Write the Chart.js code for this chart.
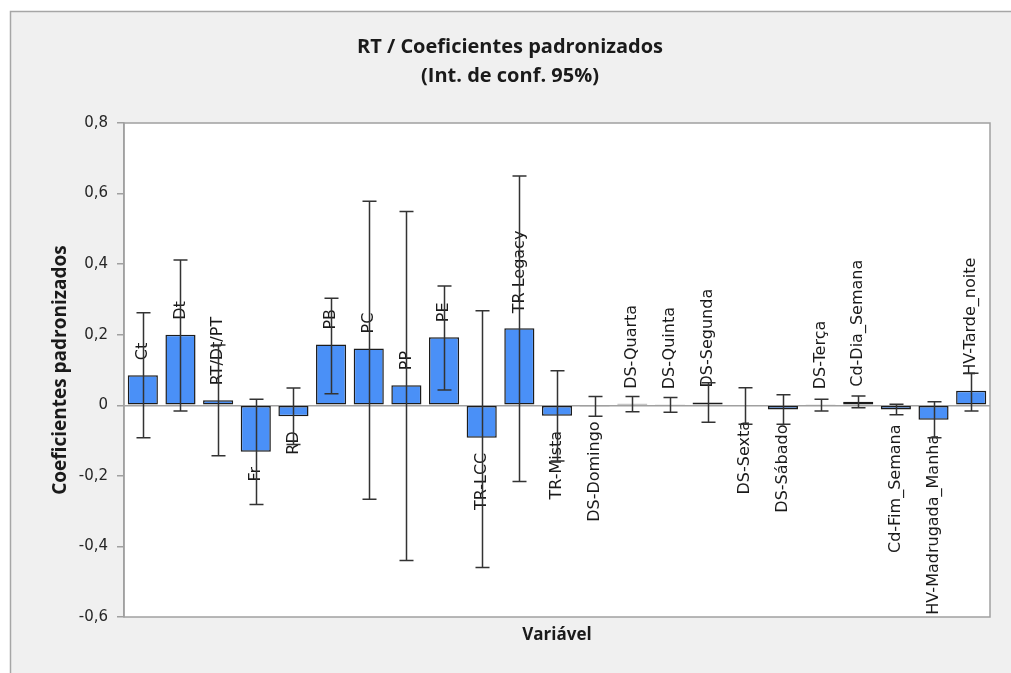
<!DOCTYPE html>
<html>
<head>
<meta charset="utf-8">
<script src="https://cdn.jsdelivr.net/npm/chart.js@4/dist/chart.umd.min.js"></script>
<style>
  html, body { margin: 0; padding: 0; background: #ffffff; }
  #wrap { width: 1011px; height: 673px; position: relative; }
</style>
</head>
<body>
<div id="wrap"><canvas id="chart" width="1011" height="673"></canvas></div>
<script>
// Variables of the model
const categories = ['Ct', 'Dt', 'RT/Dt/PT', 'Fr', 'RD', 'PB', 'PC', 'PP', 'PE', 'TR-LCC', 'TR-Legacy', 'TR-Mista',
  'DS-Domingo', 'DS-Quarta', 'DS-Quinta', 'DS-Segunda', 'DS-Sexta', 'DS-Sábado', 'DS-Terça',
  'Cd-Dia_Semana', 'Cd-Fim_Semana', 'HV-Madrugada_Manha', 'HV-Tarde_noite'];

// Standardized coefficients
const coefficients = [0.085, 0.200, 0.014, -0.132, -0.031, 0.172, 0.161, 0.057, 0.193, -0.092, 0.218, -0.030,
  -0.003, 0.004, 0.003, 0.008, -0.002, -0.012, 0.003, 0.010, -0.012, -0.041, 0.041];

// 95% confidence interval bounds
const lowerBounds = [-0.092, -0.016, -0.143, -0.281, -0.111, 0.033, -0.266, -0.440, 0.043, -0.460, -0.216, -0.158,
  -0.031, -0.018, -0.020, -0.048, -0.054, -0.054, -0.016, -0.007, -0.027, -0.092, -0.016];
const upperBounds = [0.262, 0.412, 0.171, 0.017, 0.049, 0.303, 0.578, 0.549, 0.338, 0.268, 0.650, 0.098,
  0.025, 0.025, 0.022, 0.064, 0.050, 0.030, 0.017, 0.026, 0.003, 0.010, 0.091];

// Y axis tick values
const yTicks = [-0.6, -0.4, -0.2, 0, 0.2, 0.4, 0.6, 0.8];

const titleLines = ['RT / Coeficientes padronizados', '(Int. de conf. 95%)'];
const yTitle = 'Coeficientes padronizados';
const xTitle = 'Variável';

function formatTick(v) {
  if (Math.abs(v) < 1e-9) return '0';
  return v.toFixed(1).replace('.', ',');
}

// Grey frame behind the whole chart and border around the plot area
const framePlugin = {
  id: 'frame',
  beforeDraw(chart) {
    const ctx = chart.ctx;
    ctx.save();
    ctx.fillStyle = '#ffffff';
    ctx.fillRect(0, 0, chart.width, chart.height);
    ctx.fillStyle = '#f0f0f0';
    ctx.fillRect(10, 11, chart.width, chart.height);
    ctx.strokeStyle = '#a6a6a6';
    ctx.lineWidth = 1.5;
    ctx.strokeRect(10.5, 11.5, chart.width + 10, chart.height + 10);
    const a = chart.chartArea;
    ctx.fillStyle = '#ffffff';
    ctx.fillRect(a.left, a.top, a.right - a.left, a.bottom - a.top);
    ctx.restore();
  },
  afterDraw(chart) {
    const ctx = chart.ctx;
    const a = chart.chartArea;
    ctx.save();
    ctx.strokeStyle = '#a0a0a0';
    ctx.lineWidth = 1.5;
    ctx.strokeRect(a.left, a.top, a.right - a.left, a.bottom - a.top);
    ctx.restore();
  }
};

// Category names beside each bar, then the confidence interval whiskers
const annotatePlugin = {
  id: 'annotate',
  afterDatasetsDraw(chart) {
    const ctx = chart.ctx;
    const xs = chart.scales.x;
    const ys = chart.scales.y;
    const gap = 15;
    ctx.save();
    ctx.font = '16px "DejaVu Sans"';
    ctx.fillStyle = '#1a1a1a';
    ctx.textBaseline = 'middle';
    categories.forEach((name, i) => {
      const x = xs.getPixelForValue(i);
      const yEnd = ys.getPixelForValue(coefficients[i]);
      ctx.save();
      ctx.translate(x, coefficients[i] >= 0 ? yEnd - gap : yEnd + gap);
      ctx.rotate(-Math.PI / 2);
      ctx.textAlign = coefficients[i] >= 0 ? 'left' : 'right';
      ctx.fillText(name, 0, 0);
      ctx.restore();
    });
    ctx.strokeStyle = '#333333';
    ctx.lineWidth = 1.5;
    const cap = 7;
    categories.forEach((name, i) => {
      const x = Math.round(xs.getPixelForValue(i)) + 0.5;
      const yLo = ys.getPixelForValue(lowerBounds[i]);
      const yHi = ys.getPixelForValue(upperBounds[i]);
      ctx.beginPath();
      ctx.moveTo(x, yLo);
      ctx.lineTo(x, yHi);
      ctx.moveTo(x - cap, yLo);
      ctx.lineTo(x + cap, yLo);
      ctx.moveTo(x - cap, yHi);
      ctx.lineTo(x + cap, yHi);
      ctx.stroke();
    });
    ctx.restore();
  }
};

new Chart(document.getElementById('chart'), {
  type: 'bar',
  data: {
    labels: categories,
    datasets: [{
      data: coefficients,
      backgroundColor: '#4a90f7',
      borderColor: '#1c1c1c',
      borderWidth: 1.5,
      borderSkipped: false,
      categoryPercentage: 1,
      barPercentage: 0.8
    }]
  },
  options: {
    responsive: false,
    animation: false,
    layout: { padding: { left: 30, right: 21, top: 0, bottom: 0 } },
    plugins: {
      legend: { display: false },
      tooltip: { enabled: false },
      title: {
        display: true,
        text: titleLines,
        color: '#1a1a1a',
        font: { family: '"Open Sans"', size: 20, weight: 'bold', lineHeight: 1.45 },
        padding: { top: 32.5, bottom: 32.5 }
      }
    },
    scales: {
      x: {
        type: 'category',
        grid: { display: false },
        border: { display: false },
        ticks: { display: false },
        title: {
          display: true,
          text: xTitle,
          color: '#1a1a1a',
          font: { family: '"Open Sans"', size: 17, weight: 'bold', lineHeight: 1.2 },
          padding: { top: 0, bottom: 28 }
        },
        afterFit(scale) { scale.height = 56; }
      },
      y: {
        min: -0.6,
        max: 0.8,
        afterBuildTicks(scale) { scale.ticks = yTicks.map(v => ({ value: v })); },
        ticks: {
          callback: (v) => formatTick(v),
          color: '#262626',
          font: { family: '"DejaVu Sans"', size: 15 },
          padding: 9
        },
        grid: {
          color: (c) => (c.tick && Math.abs(c.tick.value) < 1e-9 ? '#a0a0a0' : 'rgba(0,0,0,0)'),
          tickColor: '#a0a0a0',
          tickLength: 7,
          lineWidth: 1.5
        },
        border: { display: true, color: '#a0a0a0', width: 1.5 },
        title: {
          display: true,
          text: yTitle,
          color: '#1a1a1a',
          font: { family: '"Open Sans"', size: 19, weight: 'bold', lineHeight: 1.2 },
          padding: { top: 19, bottom: 0 }
        },
        afterFit(scale) { scale.width = 94; }
      }
    }
  },
  plugins: [framePlugin, annotatePlugin]
});
</script>
</body>
</html>
